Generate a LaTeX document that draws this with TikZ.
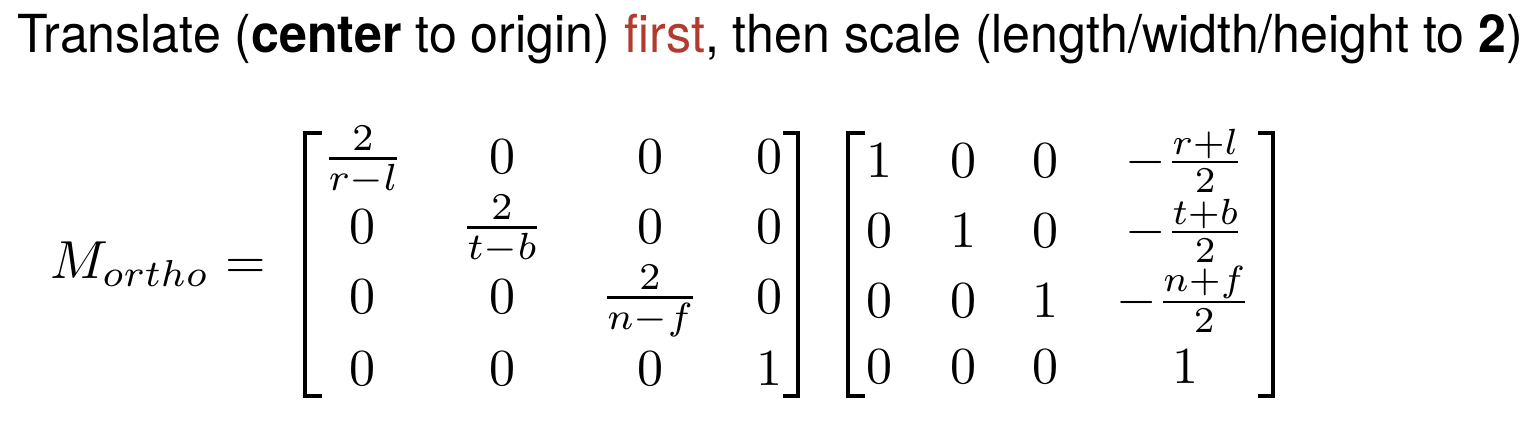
\documentclass[tikz,border=0pt]{standalone}
\usepackage{amsmath}
\usepackage{graphicx}
\usepackage{fontspec}
\newfontfamily\titlefont{TeX Gyre Heros}
\definecolor{firstred}{RGB}{178,58,46}
\newcommand{\slidemath}[1]{\scalebox{2.6}{$#1$}}
\newcommand{\slidefrac}[1]{\scalebox{2.7}{$#1$}}
\tikzset{
  entry/.style={anchor=base, inner sep=0pt},
  bracket/.style={line width=2pt, line join=miter, line cap=butt},
  titletext/.style={anchor=base west, inner sep=0pt, font=\titlefont\fontsize{26.2}{31}\selectfont}
}
\begin{document}
\begin{tikzpicture}[x=0.5pt, y=-0.5pt]
\useasboundingbox (0,0) rectangle (1538,420);
% title
\node[titletext] (title) at (17,52) {\scalebox{0.957}[1]{Translate (\textbf{center} to origin) \textcolor{firstred}{first}, then scale (length/width/height to \textbf{2})}};
% lhs
\node[entry, anchor=base west] (lhs) at (50,278) {\scalebox{2.68}{$M_{ortho}$}};
\node[entry, anchor=base west] (eq) at (225,278) {\slidemath{=}};
% first matrix brackets
\draw[bracket] (322,133) -- (305,133) -- (305,396) -- (322,396);
\draw[bracket] (783,133) -- (798,133) -- (798,396) -- (783,396);
% first matrix entries
\node[entry] (a11) at (363,172) {\slidefrac{\frac{2}{r-l}}};
\node[entry] (a12) at (502,173) {\slidemath{0}};
\node[entry] (a13) at (650,173) {\slidemath{0}};
\node[entry] (a14) at (769,173) {\slidemath{0}};
\node[entry] (a21) at (362,243) {\slidemath{0}};
\node[entry] (a22) at (502,241) {\slidefrac{\frac{2}{t-b}}};
\node[entry] (a23) at (650,243) {\slidemath{0}};
\node[entry] (a24) at (769,243) {\slidemath{0}};
\node[entry] (a31) at (362,313) {\slidemath{0}};
\node[entry] (a32) at (502,313) {\slidemath{0}};
\node[entry] (a33) at (650,311) {\slidefrac{\frac{2}{n-f}}};
\node[entry] (a34) at (769,313) {\slidemath{0}};
\node[entry] (a41) at (362,385) {\slidemath{0}};
\node[entry] (a42) at (502,385) {\slidemath{0}};
\node[entry] (a43) at (650,385) {\slidemath{0}};
\node[entry] (a44) at (769,385) {\slidemath{1}};
% second matrix brackets
\draw[bracket] (865,133) -- (848,133) -- (848,396) -- (865,396);
\draw[bracket] (1258,133) -- (1273,133) -- (1273,396) -- (1258,396);
% second matrix entries
\node[entry] (b11) at (879,177) {\slidemath{1}};
\node[entry] (b12) at (963,177) {\slidemath{0}};
\node[entry] (b13) at (1045,177) {\slidemath{0}};
\node[entry] (b14) at (1185,175) {\slidemath{-\frac{r+l}{2}}};
\node[entry] (b21) at (879,247) {\slidemath{0}};
\node[entry] (b22) at (963,247) {\slidemath{1}};
\node[entry] (b23) at (1045,247) {\slidemath{0}};
\node[entry] (b24) at (1185,245) {\slidemath{-\frac{t+b}{2}}};
\node[entry] (b31) at (879,317) {\slidemath{0}};
\node[entry] (b32) at (963,317) {\slidemath{0}};
\node[entry] (b33) at (1045,317) {\slidemath{1}};
\node[entry] (b34) at (1184,315) {\slidemath{-\frac{n+f}{2}}};
\node[entry] (b41) at (879,383) {\slidemath{0}};
\node[entry] (b42) at (963,383) {\slidemath{0}};
\node[entry] (b43) at (1045,383) {\slidemath{0}};
\node[entry] (b44) at (1185,383) {\slidemath{1}};
\end{tikzpicture}
\end{document}
